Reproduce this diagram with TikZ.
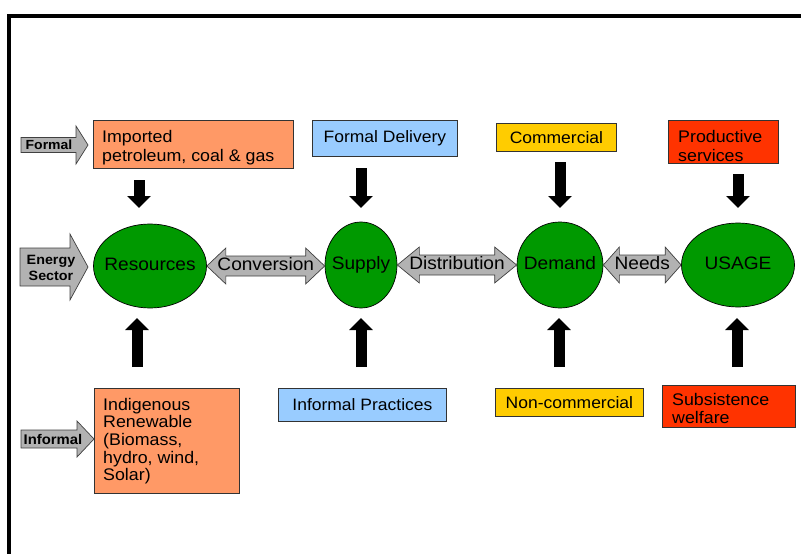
\documentclass[tikz,border=0pt]{standalone}
\usepackage{fontspec}
\setmainfont{Liberation Sans}[FakeStretch=1.06]
\usetikzlibrary{calc,shapes.geometric,arrows.meta}
\definecolor{salmon}{HTML}{FF9966}
\definecolor{lblue}{HTML}{99CCFF}
\definecolor{gold}{HTML}{FFCC00}
\definecolor{redor}{HTML}{FF3300}
\definecolor{ellgreen}{HTML}{009900}
\definecolor{agray}{HTML}{B2B2B2}
% double block arrow between two named nodes
\newcommand\dblarr[5]{%
  \draw[garrow] let \p1=(#1.east), \p2=(#2.west) in
    (\x1,\y1) -- ++(#4pt,18pt) -- ++(0pt,-8pt) -- (\x2-#4pt,\y1+10pt) -- ++(0pt,8pt)
    -- (\x2,\y1) -- ++(-#4pt,-18pt) -- ++(0pt,8pt) -- (\x1+#4pt,\y1-10pt) -- ++(0pt,-8pt) -- cycle;
  \node[glabel] (#3) at ($(#1.east)!0.5!(#2.west)$) {\vphantom{Ay}#5};
}
% single block arrow from a tail coordinate to a tip coordinate
\newcommand\sglarr[5]{%
  \draw[garrow] let \p1=(#1), \p2=(#2) in
    (\x1,\y2+#3pt) -- (\x2-#5pt,\y2+#3pt) -- (\x2-#5pt,\y2+#4pt) -- (\x2,\y2)
    -- (\x2-#5pt,\y2-#4pt) -- (\x2-#5pt,\y2-#3pt) -- (\x1,\y2-#3pt) -- cycle;
}
\newcommand\zw[1]{\makebox[0pt]{\vphantom{Ay}#1}}
\begin{document}
\begin{tikzpicture}[x=1pt,y=-1pt,
  box/.style={draw=black!80, line width=0.8pt, inner sep=0pt, anchor=north west},
  cbox/.style={box, font=\fontsize{16.5}{18.5}\selectfont},
  btxt/.style={anchor=north west, inner sep=0pt, align=left, font=\fontsize{16.8}{18.8}\selectfont},
  ell/.style={ellipse, draw=black, line width=0.7pt, fill=ellgreen, inner sep=0pt, font=\fontsize{18}{20}\selectfont},
  garrow/.style={fill=agray, draw=black!75, line width=0.7pt, line join=miter},
  glabel/.style={inner sep=0pt, font=\fontsize{18}{20}\selectfont},
  slabel/.style={inner sep=0pt, align=center},
  barrow/.style={line width=11pt, -{Triangle[width=23pt,length=12pt]}},
]
\useasboundingbox (0,0) rectangle (801,554);

% frame
\draw[line width=4pt, line join=miter] (9,560) -- (9,16) -- (810,16);

% top boxes
\node[box, fill=salmon, minimum width=200pt, minimum height=48pt] (imp) at (93,120) {};
\node[btxt] (impt) at ($(imp.north west)+(9,10)$) {Imported\\petroleum, coal \& gas};
\node[cbox, fill=lblue, minimum width=145pt, minimum height=36pt] (fdel) at (312,120) {Formal Delivery};
\node[cbox, fill=gold, minimum width=120pt, minimum height=28pt] (com) at (496,123) {Commercial};
\node[box, fill=redor, minimum width=110pt, minimum height=43pt] (prod) at (668,120) {};
\node[btxt] (prodt) at ($(prod.north west)+(10,10)$) {Productive\\services};

% bottom boxes
\node[box, fill=salmon, minimum width=145pt, minimum height=105pt] (ind) at (94,388) {};
\node[btxt, font=\fontsize{16.8}{17.6}\selectfont] (indt) at ($(ind.north west)+(9,10)$) {Indigenous\\Renewable\\(Biomass,\\hydro, wind,\\Solar)};
\node[cbox, fill=lblue, minimum width=168pt, minimum height=33pt] (ipr) at (278,388) {Informal Practices};
\node[cbox, fill=gold, minimum width=148pt, minimum height=28pt] (ncom) at (495,388) {Non-commercial};
\node[box, fill=redor, minimum width=133pt, minimum height=42pt] (subs) at (662,385) {};
\node[btxt, font=\fontsize{16.8}{18}\selectfont] (subst) at ($(subs.north west)+(10,8)$) {Subsistence\\welfare};

% ellipses
\node[ell, minimum width=113pt, minimum height=84pt] (res) at (150,266) {\zw{Resources}};
\node[ell, minimum width=72pt, minimum height=86pt] (sup) at (361,265) {\zw{Supply}};
\node[ell, minimum width=86pt, minimum height=86pt] (dem) at (560,265) {\zw{Demand}};
\node[ell, minimum width=113pt, minimum height=84pt] (usg) at (738,265) {\zw{USAGE}};

% double arrows
\dblarr{res}{sup}{conv}{19}{Conversion}
\dblarr{sup}{dem}{dist}{22}{Distribution}
\dblarr{dem}{usg}{need}{16}{Needs}

% left single arrows
\coordinate (ftail) at (21,145);
\coordinate (ftip) at (88,145);
\sglarr{ftail}{ftip}{7.5}{19}{12}
\node[slabel, font=\bfseries\fontsize{13.2}{14}\selectfont] (flab) at (49,145) {Formal};
\coordinate (etail) at (20,267);
\coordinate (etip) at (88,267);
\sglarr{etail}{etip}{19}{33}{18}
\node[slabel, font=\bfseries\fontsize{13.5}{15.5}\selectfont] (elab) at (51,268) {Energy\\Sector};
\coordinate (itail) at (21,439);
\coordinate (itip) at (94,439);
\sglarr{itail}{itip}{9}{18}{17}
\node[slabel, font=\bfseries\fontsize{14}{15}\selectfont] (ilab) at (53,439) {Informal};

% black down arrows
\coordinate (d1a) at (139,180); \coordinate (d1b) at (139,208);
\coordinate (d2a) at (361,168); \coordinate (d2b) at (361,208);
\coordinate (d3a) at (560,162); \coordinate (d3b) at (560,208);
\coordinate (d4a) at (738,174); \coordinate (d4b) at (738,208);
\draw[barrow] (d1a) -- (d1b);
\draw[barrow] (d2a) -- (d2b);
\draw[barrow] (d3a) -- (d3b);
\draw[barrow] (d4a) -- (d4b);

% black up arrows
\coordinate (u1a) at (137,367); \coordinate (u1b) at (137,318);
\coordinate (u2a) at (361,367); \coordinate (u2b) at (361,318);
\coordinate (u3a) at (559,367); \coordinate (u3b) at (559,318);
\coordinate (u4a) at (737,367); \coordinate (u4b) at (737,318);
\draw[barrow] (u1a) -- (u1b);
\draw[barrow] (u2a) -- (u2b);
\draw[barrow] (u3a) -- (u3b);
\draw[barrow] (u4a) -- (u4b);
\end{tikzpicture}
\end{document}
